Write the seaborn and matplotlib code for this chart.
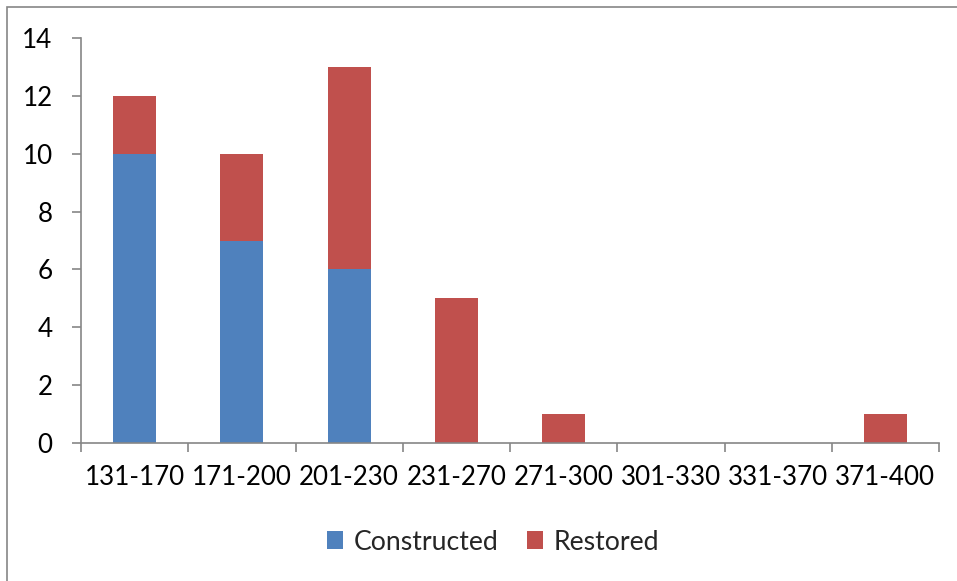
import matplotlib
matplotlib.use("Agg")
import matplotlib.pyplot as plt
from matplotlib.patches import Rectangle, Patch
from matplotlib.ticker import FixedLocator
import seaborn as sns
import pandas as pd

# Bridge spans by length class (m)
categories = ["131-170", "171-200", "201-230", "231-270", "271-300",
              "301-330", "331-370", "371-400"]
constructed = [10, 7, 6, 0, 0, 0, 0, 0]
restored = [2, 3, 7, 5, 1, 0, 0, 1]

blue = "#4F81BD"
red = "#C0504D"
axis_gray = "#868686"

sns.set_theme(style="white")
plt.rcParams["font.family"] = ["Lato", "DejaVu Sans"]

df = pd.DataFrame({
    "span": categories,
    "Constructed": constructed,
    "Restored": restored,
})
df["Total"] = df["Constructed"] + df["Restored"]

fig = plt.figure(figsize=(9.57, 5.81), dpi=100)
ax = fig.add_axes([81 / 957, 1 - 443 / 581, (939 - 81) / 957, (443 - 38) / 581])

# Stacked bars: the full height in red, constructed part drawn over it in blue
sns.barplot(data=df, x="span", y="Total", color=red, width=0.4,
            saturation=1, ax=ax, edgecolor="none")
sns.barplot(data=df, x="span", y="Constructed", color=blue, width=0.4,
            saturation=1, ax=ax, edgecolor="none")

ax.set_xlim(-0.5, len(categories) - 0.5)
ax.set_ylim(0, 14)
ax.set_yticks(range(0, 15, 2))
ax.set_xlabel("")
ax.set_ylabel("")

for side in ("top", "right"):
    ax.spines[side].set_visible(False)
for side in ("left", "bottom"):
    ax.spines[side].set_color(axis_gray)
    ax.spines[side].set_linewidth(1.2)

ax.xaxis.set_minor_locator(FixedLocator([i - 0.5 for i in range(len(categories) + 1)]))
ax.tick_params(axis="x", which="major", length=0, pad=16, labelsize=18.7, colors="black")
ax.tick_params(axis="x", which="minor", bottom=True, length=6.5, width=1.2,
               color=axis_gray, direction="out")
ax.tick_params(axis="y", which="major", left=True, length=6.5, width=1.2,
               color=axis_gray, direction="out", pad=14, labelsize=18.7,
               labelcolor="black")

handles = [Patch(facecolor=blue, edgecolor="none", label="Constructed"),
           Patch(facecolor=red, edgecolor="none", label="Restored")]
fig.legend(handles=handles, loc="center", bbox_to_anchor=(493 / 957, 1 - 542 / 581),
           ncol=2, frameon=False, fontsize=19.2, handlelength=0.62,
           handleheight=0.62, handletextpad=0.4, columnspacing=1.05)

# Chart area border
fig.patches.append(Rectangle((7 / 957, -0.1), 1.2, 1 - 7 / 581 + 0.1,
                             transform=fig.transFigure, fill=False,
                             edgecolor=axis_gray, linewidth=1.2))

fig.savefig("out.png", dpi=100)
